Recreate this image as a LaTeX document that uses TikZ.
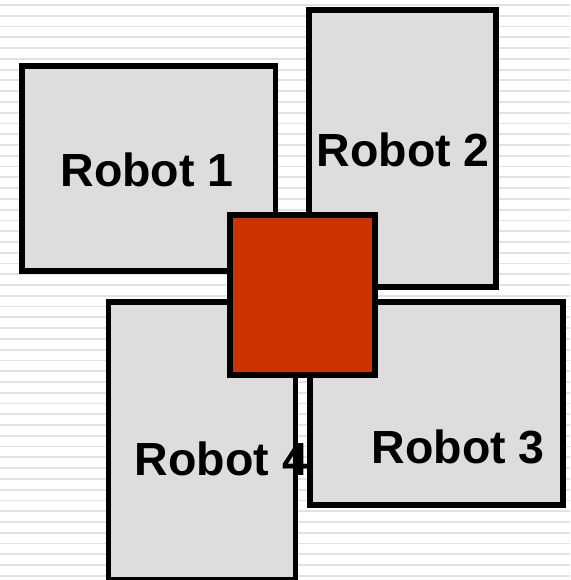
\documentclass[tikz,border=0pt]{standalone}
\usepackage{fontspec}
\setmainfont{Liberation Sans}
\definecolor{boxgray}{HTML}{DDDDDD}
\definecolor{stripe}{HTML}{E2E2E2}
\definecolor{redsq}{HTML}{CC3300}
\begin{document}
\begin{tikzpicture}[x=1pt,y=-1pt,
  robotbox/.style={draw=black,fill=boxgray,line width=5.5pt,inner sep=0pt,outer sep=0pt},
  redbox/.style={draw=black,fill=redsq,line width=5.5pt,inner sep=0pt,outer sep=0pt},
  robotlabel/.style={font=\fontsize{46.5}{50}\selectfont\bfseries,inner sep=0pt,anchor=base}]
\useasboundingbox (0,0) rectangle (570,580);
\clip (0,0) rectangle (570,580);
% striped background
\foreach \i in {0,...,53}{
  \draw[stripe,line width=1.8pt] (0,{5+10.77*\i}) -- (570,{5+10.77*\i});
}
% robot boxes
\node[robotbox,minimum width=253.5pt,minimum height=205pt,anchor=north west] (r1) at (22,66) {};
\node[robotlabel] (t1) at (147,186.7) {Robot 1};
\node[robotbox,minimum width=187pt,minimum height=277pt,anchor=north west] (r2) at (309,10) {};
\node[robotlabel] (t2) at (403.3,166.7) {Robot 2};
\node[robotbox,minimum width=187pt,minimum height=278pt,anchor=north west] (r4) at (108.5,302) {};
\node[robotlabel] (t4) at (221.5,475) {Robot 4};
\node[robotbox,minimum width=253pt,minimum height=203pt,anchor=north west] (r3) at (310,302) {};
\node[robotlabel] (t3) at (458.2,463.3) {Robot 3};
% central red square
\node[redbox,minimum width=145pt,minimum height=160pt,anchor=north west] (c) at (230,215) {};
\end{tikzpicture}
\end{document}
